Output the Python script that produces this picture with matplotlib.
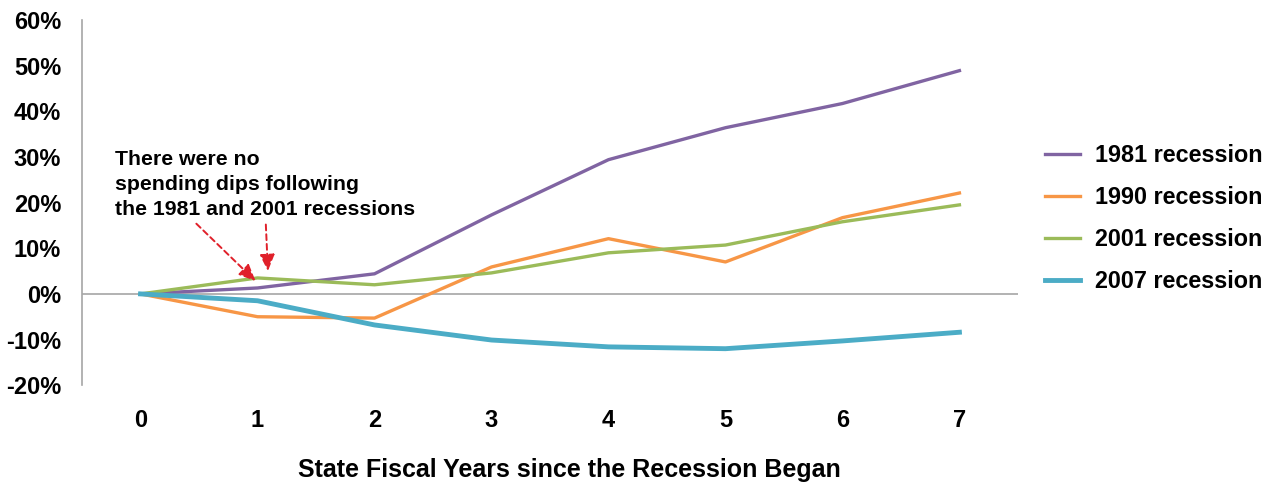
import matplotlib
matplotlib.use('Agg')
import matplotlib.pyplot as plt

years = [0, 1, 2, 3, 4, 5, 6, 7]
r1981 = [0, 1.3, 4.4, 17.3, 29.4, 36.4, 41.7, 48.9]
r1990 = [0, -5.0, -5.3, 5.9, 12.1, 7.0, 16.7, 22.1]
r2001 = [0, 3.5, 2.0, 4.6, 9.0, 10.7, 15.8, 19.5]
r2007 = [0, -1.5, -6.8, -10.1, -11.6, -12.0, -10.3, -8.4]
yticks = [-20, -10, 0, 10, 20, 30, 40, 50, 60]

plt.rcParams['font.family'] = ['Liberation Sans', 'DejaVu Sans']
plt.rcParams['font.weight'] = 'bold'

fig = plt.figure(figsize=(12.74, 4.87), dpi=100)
ax = fig.add_axes([0.0644, 0.209, 0.7346, 0.750])

ax.plot(years, r1981, color='#8064A2', lw=2.4, label='1981 recession')
ax.plot(years, r1990, color='#F79646', lw=2.4, label='1990 recession')
ax.plot(years, r2001, color='#9BBB59', lw=2.4, label='2001 recession')
ax.plot(years, r2007, color='#4BACC6', lw=3.5, label='2007 recession')

ax.axhline(0, color='#A6A6A6', lw=1.2, zorder=0)
ax.set_xlim(-0.5, 7.5)
ax.set_ylim(-20, 60)
ax.set_yticks(yticks)
ax.set_yticklabels([f'{v}%' for v in yticks])
ax.set_xticks(years)
ax.tick_params(axis='both', length=0, labelsize=17)
ax.tick_params(axis='x', pad=17)
ax.tick_params(axis='y', pad=15)
for s in ['top', 'right', 'bottom']:
    ax.spines[s].set_visible(False)
ax.spines['left'].set_color('#A6A6A6')
ax.spines['left'].set_linewidth(1.2)

fig.text(0.4466, 0.035, 'State Fiscal Years since the Recession Began',
         ha='center', va='center', fontsize=18, fontweight='bold')

ax.text(-0.22, 31.6, 'There were no\nspending dips following\nthe 1981 and 2001 recessions',
        ha='left', va='top', fontsize=15.3, fontweight='bold', linespacing=1.42)
red = '#E0202A'
ax.annotate('', xy=(1.0, 2.4), xytext=(0.46, 15.8),
            arrowprops=dict(arrowstyle='-|>,head_length=1.0,head_width=0.45',
                            color=red, lw=1.4, linestyle=(0, (3, 2))))
ax.annotate('', xy=(1.09, 4.4), xytext=(1.07, 15.8),
            arrowprops=dict(arrowstyle='-|>,head_length=1.0,head_width=0.45',
                            color=red, lw=1.4, linestyle=(0, (3, 2))))

fig.legend(loc='center left', bbox_to_anchor=(1045 / 1274, 0.551), frameon=False,
           fontsize=16.8, handlelength=1.5, handletextpad=0.65, labelspacing=0.82,
           borderpad=0, borderaxespad=0)

plt.savefig('out.png', dpi=100)
